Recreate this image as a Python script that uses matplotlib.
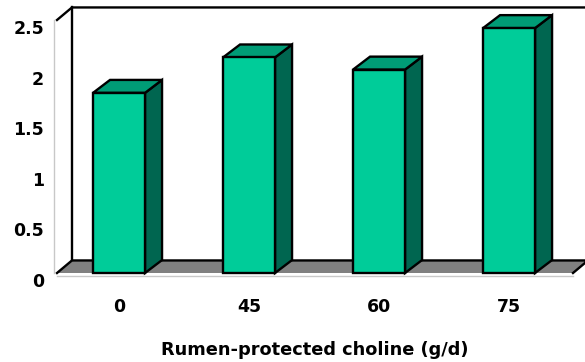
import matplotlib
matplotlib.use("Agg")
import matplotlib.pyplot as plt
from matplotlib.patches import Polygon
from matplotlib.transforms import ScaledTranslation

DOSES = ["0", "45", "60", "75"]
VALUES = [1.78, 2.13, 2.01, 2.42]
YTICKS = [0, 0.5, 1, 1.5, 2, 2.5]
YTICK_LABELS = ["0", "0.5", "1", "1.5", "2", "2.5"]
XLABEL = "Rumen-protected choline (g/d)"

FRONT = "#00CC99"
TOP = "#009C76"
SIDE = "#006650"
FLOOR = "#808080"
AXIS_GRAY = "#C8C8C8"

W, H = 585, 362
fig = plt.figure(figsize=(W / 100, H / 100), dpi=100)
ax = fig.add_axes([57 / W, (H - 273) / H, (573 - 57) / W, (273 - 20) / H])

XMIN, XMAX = -0.477, 3.492
YMAX = 2.5
ax.set_xlim(XMIN, XMAX)
ax.set_ylim(0, YMAX)

# oblique depth of the back wall and of the columns, in data units
wdx, wdy = 0.115, 0.124
bdx, bdy = 0.131, 0.128
half = 0.2

# floor
floor = Polygon([(XMIN, 0), (XMIN + wdx, wdy), (XMAX + wdx, wdy), (XMAX, 0)],
                closed=True, facecolor=FLOOR, edgecolor="none", clip_on=False, zorder=1)
ax.add_patch(floor)
line_kw = dict(color="black", lw=1.7, clip_on=False, zorder=2, solid_capstyle="projecting")
ax.plot([XMIN, XMIN + wdx, XMAX + wdx, XMAX], [0, wdy, wdy, 0], **line_kw)
# back and side wall edges
ax.plot([XMIN + wdx, XMIN + wdx], [wdy, YMAX + wdy], **line_kw)
ax.plot([XMIN, XMIN + wdx, XMAX + 0.2], [YMAX, YMAX + wdy, YMAX + wdy], **line_kw)

# columns
for i, v in enumerate(VALUES):
    x0, x1 = i - half, i + half
    front = Polygon([(x0, 0), (x0, v), (x1, v), (x1, 0)], closed=True,
                    facecolor=FRONT, edgecolor="black", lw=1.7, clip_on=False, zorder=3)
    side = Polygon([(x1, 0), (x1 + bdx, bdy), (x1 + bdx, v + bdy), (x1, v)], closed=True,
                   facecolor=SIDE, edgecolor="black", lw=1.7, clip_on=False, zorder=3)
    top = Polygon([(x0, v), (x0 + bdx, v + bdy), (x1 + bdx, v + bdy), (x1, v)], closed=True,
                  facecolor=TOP, edgecolor="black", lw=1.7, clip_on=False, zorder=3)
    for p in (side, top, front):
        ax.add_patch(p)

for s in ("top", "right"):
    ax.spines[s].set_visible(False)
for s in ("left", "bottom"):
    ax.spines[s].set_position(("outward", 2.2))
    ax.spines[s].set_color(AXIS_GRAY)
    ax.spines[s].set_linewidth(1.0)

ax.set_xticks(range(len(DOSES)))
ax.set_xticklabels(DOSES)
ax.set_yticks(YTICKS)
ax.set_yticklabels(YTICK_LABELS)
ax.tick_params(axis="both", length=0, labelsize=12.5)
ax.tick_params(axis="y", pad=7.2)
ax.tick_params(axis="x", pad=15.5)
for lab in ax.get_xticklabels() + ax.get_yticklabels():
    lab.set_fontweight("bold")
shift = ScaledTranslation(0, -7 / 100, fig.dpi_scale_trans)
for lab in ax.get_yticklabels():
    lab.set_transform(lab.get_transform() + shift)

ax.set_xlabel(XLABEL, fontsize=12.8, fontweight="bold")
ax.xaxis.set_label_coords(0.5, -77 / 253)
ax.xaxis.label.set_va("center")
ax.patch.set_alpha(0)

fig.savefig("out.png", dpi=100)
